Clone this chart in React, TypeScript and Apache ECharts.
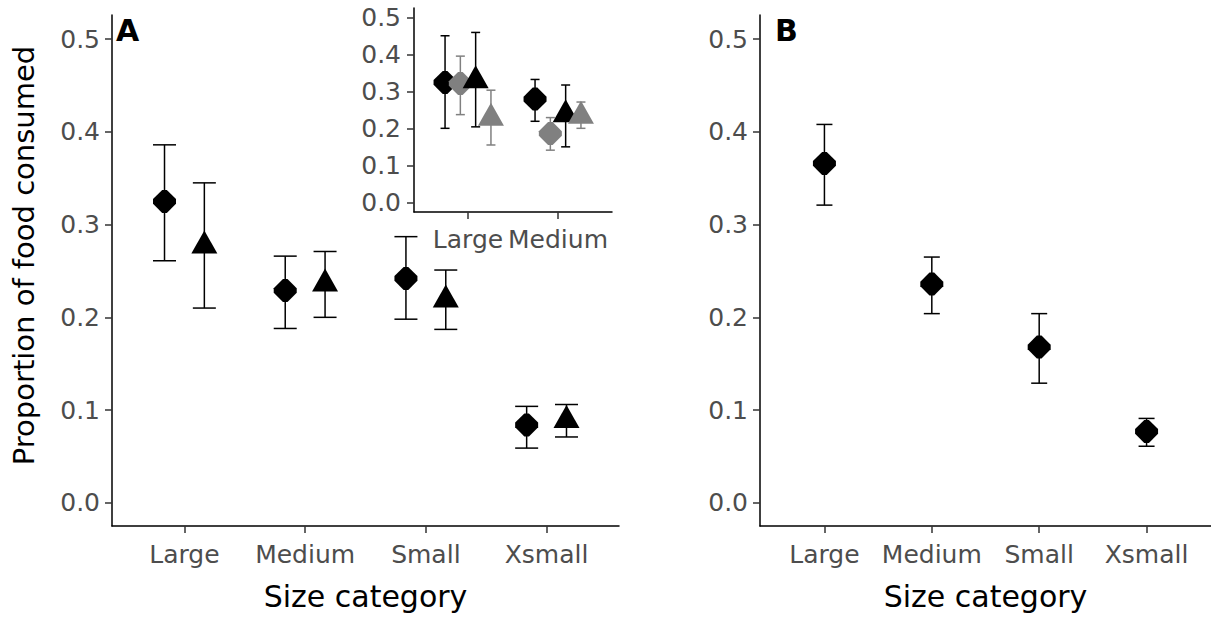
import React, { useEffect, useRef } from "react";
import * as echarts from "echarts";

// ---------- data ----------
const categories = ["Large", "Medium", "Small", "Xsmall"];
const yTicks = [0, 0.1, 0.2, 0.3, 0.4, 0.5];

// Panel A (main)
const aDiamondMean = [0.325, 0.229, 0.242, 0.084];
const aDiamondLow = [0.261, 0.188, 0.198, 0.059];
const aDiamondHigh = [0.386, 0.266, 0.287, 0.104];
const aTriangleMean = [0.277, 0.236, 0.219, 0.089];
const aTriangleLow = [0.21, 0.2, 0.187, 0.071];
const aTriangleHigh = [0.345, 0.271, 0.251, 0.106];

// Panel A inset
const insetCategories = ["Large", "Medium"];
const inBlackDiamondMean = [0.325, 0.28];
const inBlackDiamondLow = [0.201, 0.22];
const inBlackDiamondHigh = [0.451, 0.333];
const inGreyDiamondMean = [0.322, 0.187];
const inGreyDiamondLow = [0.238, 0.142];
const inGreyDiamondHigh = [0.396, 0.23];
const inBlackTriangleMean = [0.33, 0.238];
const inBlackTriangleLow = [0.205, 0.151];
const inBlackTriangleHigh = [0.46, 0.318];
const inGreyTriangleMean = [0.229, 0.234];
const inGreyTriangleLow = [0.156, 0.201];
const inGreyTriangleHigh = [0.304, 0.272];

// Panel B
const bMean = [0.366, 0.236, 0.168, 0.077];
const bLow = [0.321, 0.204, 0.129, 0.061];
const bHigh = [0.408, 0.265, 0.204, 0.091];

// ---------- styling ----------
const FONT = "DejaVu Sans";
const BLACK = "#000000";
const GREY = "#808080";
const LABEL = "#4d4d4d";
const diamondPath = "path://M8,0 L12,0 L20,8 L20,12 L12,20 L8,20 L0,12 L0,8 Z";
const DIAMOND_SIZE = [23, 23];
const TRI_SIZE = [26, 23];

function pts(mean: number[], offset: number) {
  return mean.map((v, i) => [i + 1 + offset, v]);
}
function bars(low: number[], high: number[], offset: number) {
  return low.map((v, i) => [i + 1 + offset, v, high[i]]);
}

function errorSeries(axis: number, data: number[][], color: string, capHalf: number) {
  return {
    type: "custom",
    xAxisIndex: axis,
    yAxisIndex: axis,
    silent: true,
    z: 2,
    encode: { x: 0, y: [1, 2] },
    data,
    renderItem: (params: any, api: any) => {
      const x = api.value(0);
      const lo = api.coord([x, api.value(1)]);
      const hi = api.coord([x, api.value(2)]);
      const st = { stroke: color, lineWidth: 1.5 };
      return {
        type: "group",
        children: [
          { type: "line", shape: { x1: lo[0], y1: lo[1], x2: hi[0], y2: hi[1] }, style: st },
          { type: "line", shape: { x1: lo[0] - capHalf, y1: lo[1], x2: lo[0] + capHalf, y2: lo[1] }, style: st },
          { type: "line", shape: { x1: hi[0] - capHalf, y1: hi[1], x2: hi[0] + capHalf, y2: hi[1] }, style: st },
        ],
      };
    },
  };
}

function pointSeries(axis: number, data: number[][], color: string, shape: "diamond" | "triangle") {
  const isTri = shape === "triangle";
  return {
    type: "scatter",
    xAxisIndex: axis,
    yAxisIndex: axis,
    silent: true,
    z: 3,
    symbol: isTri ? "triangle" : diamondPath,
    symbolSize: isTri ? TRI_SIZE : DIAMOND_SIZE,
    symbolOffset: isTri ? [0, -TRI_SIZE[1] / 6] : [0, 0],
    itemStyle: { color, opacity: 1 },
    data,
  };
}

function xAxis(grid: number, cats: string[], max: number, name: string, labelMargin: number) {
  const vals = cats.map((_, i) => i + 1);
  return {
    type: "value",
    gridIndex: grid,
    min: 0.4,
    max,
    axisLine: { show: true, onZero: false, lineStyle: { color: BLACK, width: 1.5 } },
    axisTick: { show: true, length: 7, customValues: vals, lineStyle: { color: "#333333", width: 1.5 } },
    axisLabel: {
      customValues: vals,
      formatter: (v: number) => cats[Math.round(v) - 1] ?? "",
      color: LABEL,
      fontSize: 25,
      fontFamily: FONT,
      margin: labelMargin,
    },
    splitLine: { show: false },
    name,
    nameLocation: "middle",
    nameGap: 55,
    nameTextStyle: { color: BLACK, fontSize: 30, fontFamily: FONT },
  };
}

function yAxis(grid: number, name: string, labelMargin: number) {
  return {
    type: "value",
    gridIndex: grid,
    min: -0.025,
    max: 0.526,
    axisLine: { show: true, onZero: false, lineStyle: { color: BLACK, width: 1.5 } },
    axisTick: { show: true, length: 7, customValues: yTicks, lineStyle: { color: "#333333", width: 1.5 } },
    axisLabel: {
      customValues: yTicks,
      formatter: (v: number) => v.toFixed(1),
      color: LABEL,
      fontSize: 25,
      fontFamily: FONT,
      margin: labelMargin,
    },
    splitLine: { show: false },
    name,
    nameLocation: "middle",
    nameGap: 74,
    nameTextStyle: { color: BLACK, fontSize: 29, fontFamily: FONT, padding: [0, 0, 0, 30] },
  };
}

export default function App() {
  const ref = useRef<HTMLDivElement>(null);
  useEffect(() => {
    document.body.style.margin = "0";
    if (!ref.current) return;
    const chart = echarts.init(ref.current, undefined, { renderer: "svg" });
    const dA = 0.165;
    const inOff = [-0.255, -0.085, 0.085, 0.255];
    chart.setOption({
      animation: false,
      backgroundColor: "#ffffff",
      textStyle: { fontFamily: FONT },
      grid: [
        { left: 112, top: 15, width: 507, height: 511 },
        { left: 414, top: 8, width: 198, height: 204 },
        { left: 760, top: 15, width: 455, height: 511 },
      ],
      xAxis: [
        xAxis(0, categories, 4.6, "Size category", 16),
        xAxis(1, insetCategories, 2.6, "", 15),
        xAxis(2, categories, 4.6, "Size category", 16),
      ],
      yAxis: [yAxis(0, "Proportion of food consumed", 12), yAxis(1, "", 13), yAxis(2, "", 12)],
      graphic: [
        { type: "text", left: 116, top: 15, style: { text: "A", font: "bold 30px 'DejaVu Sans'", fill: BLACK } },
        { type: "text", left: 775, top: 15, style: { text: "B", font: "bold 30px 'DejaVu Sans'", fill: BLACK } },
      ],
      series: [
        // Panel A
        errorSeries(0, bars(aDiamondLow, aDiamondHigh, -dA), BLACK, 11.5),
        errorSeries(0, bars(aTriangleLow, aTriangleHigh, dA), BLACK, 11.5),
        pointSeries(0, pts(aDiamondMean, -dA), BLACK, "diamond"),
        pointSeries(0, pts(aTriangleMean, dA), BLACK, "triangle"),
        // Inset
        errorSeries(1, bars(inBlackDiamondLow, inBlackDiamondHigh, inOff[0]), BLACK, 4.5),
        errorSeries(1, bars(inGreyDiamondLow, inGreyDiamondHigh, inOff[1]), GREY, 4.5),
        errorSeries(1, bars(inBlackTriangleLow, inBlackTriangleHigh, inOff[2]), BLACK, 4.5),
        errorSeries(1, bars(inGreyTriangleLow, inGreyTriangleHigh, inOff[3]), GREY, 4.5),
        pointSeries(1, pts(inBlackDiamondMean, inOff[0]), BLACK, "diamond"),
        pointSeries(1, pts(inGreyDiamondMean, inOff[1]), GREY, "diamond"),
        pointSeries(1, pts(inBlackTriangleMean, inOff[2]), BLACK, "triangle"),
        pointSeries(1, pts(inGreyTriangleMean, inOff[3]), GREY, "triangle"),
        // Panel B
        errorSeries(2, bars(bLow, bHigh, 0), BLACK, 8),
        pointSeries(2, pts(bMean, 0), BLACK, "diamond"),
      ],
    });
    return () => chart.dispose();
  }, []);
  return <div ref={ref} style={{ width: 1211, height: 621 }} />;
}
